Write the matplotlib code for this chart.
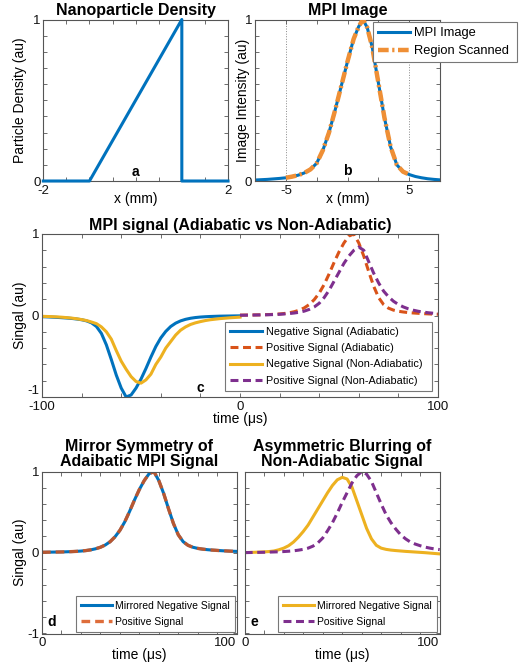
import numpy as np
import matplotlib
matplotlib.use("Agg")
import matplotlib.pyplot as plt

plt.rcParams['font.family'] = ['Liberation Sans', 'DejaVu Sans']

# ---- data ----
# (a) nanoparticle density
density_x = [-2, -1, 1, 1, 2]
density = [0, 0, 1, 0, 0]

# (b) MPI image
image_x = [-7.5, -7, -6.5, -6, -5.5, -5, -4.5, -4, -3.5, -3, -2.5, -2, -1.5, -1, -0.5,
           0, 0.5, 0.9, 1.25, 1.6, 2, 2.5, 3, 3.5, 4, 4.5, 5, 5.5, 6, 6.5, 7, 7.5]
image = [0.006, 0.008, 0.010, 0.013, 0.016, 0.020, 0.027, 0.036, 0.050, 0.072, 0.11,
         0.19, 0.30, 0.44, 0.59, 0.74, 0.88, 0.955, 1.0, 0.95, 0.83, 0.61, 0.39, 0.21,
         0.10, 0.058, 0.040, 0.028, 0.020, 0.014, 0.010, 0.007]
scan_limit = 5

# (c) MPI signal, time in us
t_neg = np.arange(-100, 0.1, 2.5)
t_pos = np.arange(0, 100.1, 2.5)
neg_adiabatic = [-0.015, -0.017, -0.02, -0.023, -0.027, -0.031, -0.036, -0.043, -0.052, -0.066,
                 -0.09, -0.135, -0.22, -0.36, -0.54, -0.73, -0.89, -1.0, -0.975, -0.89,
                 -0.78, -0.65, -0.51, -0.38, -0.275, -0.195, -0.135, -0.094, -0.066, -0.047,
                 -0.034, -0.025, -0.019, -0.015, -0.012, -0.010, -0.008, -0.007, -0.006, -0.005,
                 -0.004]
pos_adiabatic = [0.004, 0.005, 0.006, 0.007, 0.008, 0.010, 0.012, 0.015, 0.019, 0.025,
                 0.034, 0.047, 0.066, 0.094, 0.135, 0.195, 0.275, 0.38, 0.51, 0.65,
                 0.78, 0.89, 0.975, 1.0, 0.89, 0.73, 0.54, 0.36, 0.22, 0.135,
                 0.09, 0.066, 0.052, 0.043, 0.036, 0.031, 0.027, 0.023, 0.02, 0.017,
                 0.015]
neg_nonadiabatic = [-0.01, -0.012, -0.014, -0.017, -0.021, -0.026, -0.032, -0.04, -0.05, -0.062,
                    -0.08, -0.10, -0.14, -0.20, -0.29, -0.43, -0.56, -0.66, -0.75, -0.81,
                    -0.83, -0.79, -0.72, -0.60, -0.51, -0.40, -0.32, -0.24, -0.18, -0.14,
                    -0.11, -0.09, -0.075, -0.062, -0.052, -0.045, -0.038, -0.033, -0.028, -0.024,
                    -0.02]
pos_nonadiabatic = [0.003, 0.004, 0.005, 0.006, 0.007, 0.008, 0.010, 0.012, 0.015, 0.019,
                    0.024, 0.031, 0.040, 0.054, 0.075, 0.105, 0.15, 0.22, 0.31, 0.42,
                    0.53, 0.64, 0.73, 0.80, 0.84, 0.80, 0.66, 0.52, 0.40, 0.30,
                    0.23, 0.175, 0.135, 0.105, 0.082, 0.065, 0.052, 0.042, 0.034, 0.028,
                    0.023]

# (e) normalised non-adiabatic signals
mirrored_nonadiabatic = [0.0, 0.002, 0.004, 0.006, 0.009, 0.013, 0.02, 0.035, 0.055, 0.085,
                         0.13, 0.19, 0.26, 0.34, 0.44, 0.54, 0.64, 0.74, 0.83, 0.90,
                         0.93, 0.91, 0.81, 0.64, 0.47, 0.30, 0.17, 0.09, 0.055, 0.04,
                         0.031, 0.025, 0.02, 0.015, 0.011, 0.007, 0.003, -0.001, -0.006, -0.011,
                         -0.016]
positive_nonadiabatic = [0.0, 0.001, 0.002, 0.003, 0.004, 0.006, 0.008, 0.010, 0.013, 0.017,
                         0.022, 0.03, 0.04, 0.055, 0.08, 0.12, 0.18, 0.27, 0.37, 0.49,
                         0.62, 0.74, 0.86, 0.95, 1.0, 0.97, 0.88, 0.74, 0.60, 0.47,
                         0.37, 0.29, 0.22, 0.17, 0.13, 0.105, 0.085, 0.068, 0.055, 0.045,
                         0.037]

BLUE = '#0072BD'
RED = '#D95319'
YELLOW = '#EDB120'
PURPLE = '#7E2F8E'
ORANGE = '#EF8F35'
FRAME = '#555555'

W, H = 523, 664
fig = plt.figure(figsize=(W / 100, H / 100), dpi=100)


def axes_px(left, top, right, bottom):
    return fig.add_axes([left / W, 1 - bottom / H, (right - left) / W, (bottom - top) / H])


def matlab_style(ax, xticks, xshow, yticks, yshow):
    ax.set_xticks(xticks)
    ax.set_xticklabels([('%g' % (v + 0.0)) if v in xshow else '' for v in xticks])
    ax.set_yticks(yticks)
    ax.set_yticklabels([('%g' % (v + 0.0)) if v in yshow else '' for v in yticks])
    ax.tick_params(direction='in', top=True, right=True, length=3, width=0.6,
                   color=FRAME, labelsize=9.5, labelcolor='#111111')
    ax.tick_params(axis='x', pad=2.6)
    ax.tick_params(axis='y', pad=2)
    for s in ax.spines.values():
        s.set_color(FRAME)
        s.set_linewidth(0.8)


def legend_px(ax, left, top, right, fontsize, **kw):
    leg = ax.legend(loc='upper left', mode='expand',
                    bbox_to_anchor=(left / W, 1 - top / H, (right - left) / W, 0),
                    bbox_transform=fig.transFigure, borderaxespad=0,
                    fancybox=False, framealpha=1, edgecolor='#777777',
                    fontsize=fontsize, handletextpad=0.3, **kw)
    leg.get_frame().set_linewidth(0.8)
    leg.set_zorder(10)
    return leg


# ---- (a) density ----
ax = axes_px(43.3, 19.5, 228, 181)
ax.plot(density_x, density, color=BLUE, lw=2.2, clip_on=False, zorder=3)
ax.set_xlim(-2, 2)
ax.set_ylim(0, 1)
matlab_style(ax, np.arange(-2, 2.01, 0.5), [-2, 2], np.round(np.arange(0, 1.01, 0.1), 1), [0, 1])
ax.set_title('Nanoparticle Density', fontsize=11.5, fontweight='bold', pad=3)
ax.set_xlabel('x (mm)', fontsize=10)
ax.set_ylabel('Particle Density (au)', fontsize=10)
ax.xaxis.set_label_coords(0.5, -0.07)
ax.yaxis.set_label_coords(-0.088, 0.5)
ax.text(0, 0.055, 'a', fontsize=10, fontweight='bold', ha='center', va='center')

# ---- (b) MPI image ----
ax = axes_px(255, 19.5, 440, 181)
for v in (-scan_limit, scan_limit):
    ax.axvline(v, color='#888888', lw=0.7, ls=':', zorder=1)
ax.plot(image_x, image, color=BLUE, lw=2.2, label='MPI Image', zorder=2)
scan_x = [x for x in image_x if abs(x) <= scan_limit]
scan_y = [y for x, y in zip(image_x, image) if abs(x) <= scan_limit]
ax.plot(scan_x, scan_y, color=ORANGE, lw=3.2, ls=(0, (2.4, 0.8, 0.5, 0.8)),
        label='Region Scanned', zorder=3)
ax.set_xlim(-7.5, 7.5)
ax.set_ylim(0, 1)
matlab_style(ax, np.arange(-7.5, 7.51, 2.5), [-5, 5], np.round(np.arange(0, 1.01, 0.1), 1), [0, 1])
ax.set_title('MPI Image', fontsize=11.5, fontweight='bold', pad=3)
ax.set_xlabel('x (mm)', fontsize=10)
ax.set_ylabel('Image Intensity (au)', fontsize=10)
ax.xaxis.set_label_coords(0.5, -0.07)
ax.yaxis.set_label_coords(-0.027, 0.5)
ax.text(0, 0.06, 'b', fontsize=10, fontweight='bold', ha='center', va='center')
legend_px(ax, 373, 22, 517, 9.3, handlelength=2.5, borderpad=0.4, labelspacing=0.47)

# ---- (c) MPI signal ----
ax = axes_px(42, 234, 438, 397)
ax.plot(t_neg, neg_adiabatic, color=BLUE, lw=2.2, label='Negative Signal (Adiabatic)')
ax.plot(t_pos, pos_adiabatic, color=RED, lw=2.2, ls=(0, (2.6, 1.5)), label='Positive Signal (Adiabatic)')
ax.plot(t_neg, neg_nonadiabatic, color=YELLOW, lw=2.2, label='Negative Signal (Non-Adiabatic)')
ax.plot(t_pos, pos_nonadiabatic, color=PURPLE, lw=2.2, ls=(0, (2.6, 1.5)), label='Positive Signal (Non-Adiabatic)')
ax.set_xlim(-100, 100)
ax.set_ylim(-1, 1)
matlab_style(ax, np.arange(-100, 101, 20), [-100, 0, 100], np.round(np.arange(-1, 1.01, 0.2), 1), [-1, 0, 1])
ax.get_yticklabels()[0].set_va('bottom')
ax.set_title('MPI signal (Adiabatic vs Non-Adiabatic)', fontsize=11.5, fontweight='bold', pad=3)
ax.set_xlabel('time (μs)', fontsize=10)
ax.set_ylabel('Singal (au)', fontsize=10)
ax.xaxis.set_label_coords(0.5, -0.094)
ax.yaxis.set_label_coords(-0.038, 0.5)
ax.text(-20, -0.89, 'c', fontsize=10, fontweight='bold', ha='center', va='center')
legend_px(ax, 225, 322, 432, 7.8, handlelength=3.0, borderpad=0.45, labelspacing=0.58)

# ---- (d) adiabatic mirror symmetry ----
ax = axes_px(42, 471.7, 236.7, 633.5)
ax.plot(t_pos, -np.array(neg_adiabatic)[::-1], color=BLUE, lw=2.2, label='Mirrored Negative Signal')
ax.plot(t_pos, pos_adiabatic, color=RED, lw=2.4, ls=(0, (2.6, 1.5)), alpha=0.85, label='Positive Signal')
ax.set_xlim(0, 100)
ax.set_ylim(-1, 1)
matlab_style(ax, np.arange(0, 101, 10), [0, 100], np.round(np.arange(-1, 1.01, 0.2), 1), [-1, 0, 1])
ax.get_xticklabels()[-1].set_ha('right')
ax.set_title('Mirror Symmetry of\nAdaibatic MPI Signal', fontsize=11.5, fontweight='bold',
             pad=4, linespacing=1.0)
ax.set_xlabel('time (μs)', fontsize=10)
ax.set_ylabel('Singal (au)', fontsize=10)
ax.xaxis.set_label_coords(0.5, -0.09)
ax.yaxis.set_label_coords(-0.077, 0.5)
ax.text(5, -0.86, 'd', fontsize=10, fontweight='bold', ha='center', va='center')
legend_px(ax, 76, 596, 235, 7.5, handlelength=3.0, borderpad=0.45, labelspacing=0.62)

# ---- (e) non-adiabatic blurring ----
ax = axes_px(244.7, 471.7, 439.7, 633.5)
ax.plot(t_pos, mirrored_nonadiabatic, color=YELLOW, lw=2.2, label='Mirrored Negative Signal')
ax.plot(t_pos, positive_nonadiabatic, color=PURPLE, lw=2.2, ls=(0, (2.6, 1.5)), label='Positive Signal')
ax.set_xlim(0, 100)
ax.set_ylim(-1, 1)
matlab_style(ax, np.arange(0, 101, 10), [0, 100], np.round(np.arange(-1, 1.01, 0.2), 1), [])
ax.get_xticklabels()[-1].set_ha('right')
ax.set_title('Asymmetric Blurring of\nNon-Adiabatic Signal', fontsize=11.5, fontweight='bold',
             pad=4, linespacing=1.0)
ax.set_xlabel('time (μs)', fontsize=10)
ax.xaxis.set_label_coords(0.5, -0.09)
ax.text(5, -0.86, 'e', fontsize=10, fontweight='bold', ha='center', va='center')
legend_px(ax, 278.3, 596, 437.3, 7.5, handlelength=3.0, borderpad=0.45, labelspacing=0.62)

fig.savefig('out.png', dpi=100)
